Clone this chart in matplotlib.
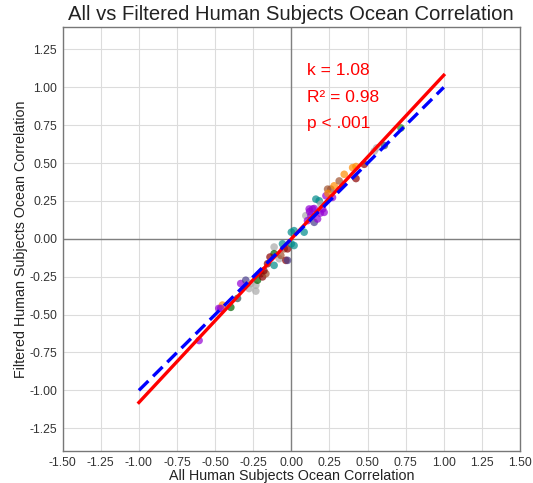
import numpy as np
import matplotlib
matplotlib.use('Agg')
import matplotlib.pyplot as plt

plt.rcParams['font.family'] = ['Liberation Sans', 'DejaVu Sans']

# points: (all, filtered, colour)
all_corr = [-0.605, -0.476, -0.452, -0.397, -0.353, -0.332, -0.299, -0.266, -0.233, -0.233,
            -0.222, -0.200, -0.189, -0.167, -0.156, -0.113, -0.113, -0.113, -0.080, -0.069,
            -0.036, -0.025, -0.047, -0.025, -0.058, 0.000, 0.018, 0.000, 0.018, 0.084,
            0.095, 0.117, 0.139, 0.128, 0.106, 0.150, 0.172, 0.161, 0.183, 0.194,
            0.205, 0.215, 0.227, 0.238, 0.259, 0.281, 0.270, 0.314, 0.347, 0.402,
            0.424, 0.424, 0.478, 0.544, 0.610, 0.719, -0.463, -0.277, -0.180, 0.150,
            0.190, 0.240, 0.120, -0.140, 0.560]
filt_corr = [-0.671, -0.459, -0.437, -0.452, -0.393, -0.295, -0.273, -0.295, -0.306, -0.345,
             -0.273, -0.230, -0.251, -0.230, -0.164, -0.175, -0.054, -0.098, -0.131, -0.109,
             -0.142, -0.142, -0.066, -0.066, -0.033, -0.033, -0.044, 0.044, 0.054, 0.044,
             0.153, 0.197, 0.197, 0.153, 0.120, 0.109, 0.131, 0.262, 0.251, 0.229,
             0.197, 0.175, 0.284, 0.328, 0.328, 0.350, 0.273, 0.382, 0.426, 0.470,
             0.477, 0.398, 0.492, 0.579, 0.616, 0.732, -0.459, -0.328, -0.210, 0.200,
             0.170, 0.300, 0.180, -0.120, 0.600]
point_colors = ['darkviolet', 'darkviolet', 'darkorange', 'darkgreen', 'darkslategray', 'darkviolet',
                'darkslateblue', 'darkgray', 'darkgray', 'darkgray',
                'darkgreen', 'darkred', 'darkred', 'sienna', 'darkred', 'darkcyan', 'darkgray',
                'darkgreen', 'darkgray', 'sienna',
                'darkred', 'darkslateblue', 'sienna', 'darkred', 'darkcyan', 'darkcyan', 'darkcyan',
                'darkcyan', 'darkcyan', 'darkcyan',
                'darkgray', 'darkviolet', 'darkviolet', 'darkviolet', 'darkviolet', 'darkslateblue',
                'darkviolet', 'darkcyan', 'darkcyan', 'darkgray',
                'darkviolet', 'darkviolet', 'darkviolet', 'sienna', 'sienna', 'darkorange',
                'darkviolet', 'sienna', 'darkorange', 'darkorange',
                'darkorange', 'darkred', 'darkred', 'darkgray', 'darkslategray', 'forestgreen',
                'darkviolet', 'darkgray', 'darkred', 'darkviolet',
                'darkviolet', 'darkorange', 'darkviolet', 'darkred', 'darkgray']

k = 1.08
r2 = 0.98
line_x = [-1.0, 1.0]
ticks = np.arange(-1.5, 1.51, 0.25)

fig = plt.figure(figsize=(5.33, 4.83), dpi=100)
ax = fig.add_axes([0.1176, 0.0663, 0.858, 0.8784])

ax.grid(True, color='#dcdcdc', linewidth=0.8)
ax.axhline(0, color='gray', linewidth=1, zorder=1.6)
ax.axvline(0, color='gray', linewidth=1, zorder=1.6)

ax.scatter(all_corr, filt_corr, c=point_colors, s=30, alpha=0.7, linewidths=0, zorder=2)

ax.plot(line_x, [k * v for v in line_x], color='red', linewidth=2.4, zorder=3)
ax.plot(line_x, line_x, color='blue', linestyle='--', linewidth=2.4, dashes=(4, 2), zorder=4)

ax.text(0.1, 1.08, f'k = {k:.2f}', color='red', fontsize=12.5, va='baseline')
ax.text(0.1, 0.905, f'R\u00b2 = {r2:.2f}', color='red', fontsize=12.5, va='baseline')
ax.text(0.1, 0.73, 'p < .001', color='red', fontsize=12.5, va='baseline')

ax.set_xlim(-1.5, 1.5)
ax.set_ylim(-1.4, 1.4)
ax.set_xticks(ticks)
ax.set_yticks(ticks[1:-1])
ax.set_xticklabels([f'{t:.2f}' for t in ticks])
ax.set_yticklabels([f'{t:.2f}' for t in ticks[1:-1]])
ax.tick_params(length=0, labelsize=8.8, colors='#333333', pad=4)
for s in ax.spines.values():
    s.set_color('#777777')
    s.set_linewidth(1.0)

ax.set_title('All vs Filtered Human Subjects Ocean Correlation', fontsize=14.6, color='#222222', pad=5)
ax.set_xlabel('All Human Subjects Ocean Correlation', fontsize=10.3, color='#222222', labelpad=0)
ax.set_ylabel('Filtered Human Subjects Ocean Correlation', fontsize=10.3, color='#222222', labelpad=1)

fig.savefig('out.png', dpi=100)
